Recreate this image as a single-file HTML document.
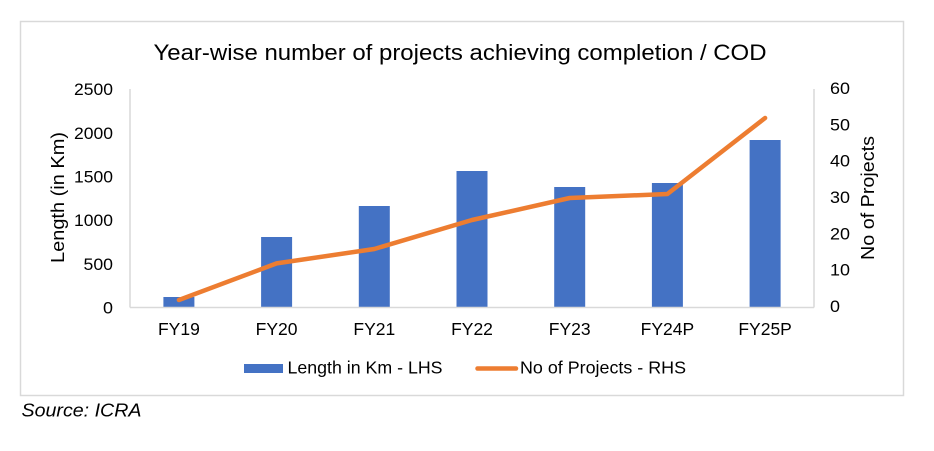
<!DOCTYPE html>
<html>
<head>
<meta charset="utf-8">
<style>
html,body{margin:0;padding:0;background:#fff;}
svg{display:block;}
text{font-family:"Liberation Sans",Arial,sans-serif;fill:#000;}
</style>
</head>
<body>
<svg width="934" height="451" viewBox="0 0 934 451" xmlns="http://www.w3.org/2000/svg">
<rect x="0" y="0" width="934" height="451" fill="#fff"/>
<rect x="20.5" y="21.5" width="883" height="374" fill="none" stroke="#d9d9d9" stroke-width="1.5"/>

<!-- Title -->
<text x="153.5" y="60" font-size="22.5" textLength="613" lengthAdjust="spacingAndGlyphs">Year-wise number of projects achieving completion / COD</text>

<!-- Bars -->
<g fill="#4472C4">
<rect x="163.4" y="297" width="31" height="10"/>
<rect x="261.1" y="237" width="31" height="70"/>
<rect x="358.8" y="206" width="31" height="101"/>
<rect x="456.5" y="171" width="31" height="136"/>
<rect x="554.2" y="187" width="31" height="120"/>
<rect x="651.9" y="183" width="31" height="124"/>
<rect x="749.6" y="140" width="31" height="167"/>
</g>

<!-- Axes -->
<g stroke="#d9d9d9" stroke-width="1.5" fill="none">
<line x1="130" y1="89" x2="130" y2="307.5"/>
<line x1="814" y1="89" x2="814" y2="307.5"/>
<line x1="130" y1="307.5" x2="814" y2="307.5"/>
</g>

<!-- Line -->
<polyline fill="none" stroke="#ED7D31" stroke-width="4.5" stroke-linejoin="round" stroke-linecap="round"
 points="178.9,300 276.6,263.4 374.3,249 472,220 569.7,198 667.4,194 765.1,118"/>

<!-- Left ticks -->
<g font-size="16.5" text-anchor="end">
<text x="113" y="95" textLength="39" lengthAdjust="spacingAndGlyphs">2500</text>
<text x="113" y="139" textLength="39" lengthAdjust="spacingAndGlyphs">2000</text>
<text x="113" y="182.5" textLength="39" lengthAdjust="spacingAndGlyphs">1500</text>
<text x="113" y="226" textLength="39" lengthAdjust="spacingAndGlyphs">1000</text>
<text x="113" y="270" textLength="29.5" lengthAdjust="spacingAndGlyphs">500</text>
<text x="113" y="313.5" textLength="10" lengthAdjust="spacingAndGlyphs">0</text>
</g>

<!-- Right ticks -->
<g font-size="16.5" text-anchor="start">
<text x="830" y="94" textLength="20" lengthAdjust="spacingAndGlyphs">60</text>
<text x="830" y="130.3" textLength="20" lengthAdjust="spacingAndGlyphs">50</text>
<text x="830" y="166.7" textLength="20" lengthAdjust="spacingAndGlyphs">40</text>
<text x="830" y="203" textLength="20" lengthAdjust="spacingAndGlyphs">30</text>
<text x="830" y="239.3" textLength="20" lengthAdjust="spacingAndGlyphs">20</text>
<text x="830" y="275.7" textLength="20" lengthAdjust="spacingAndGlyphs">10</text>
<text x="830" y="312" textLength="10" lengthAdjust="spacingAndGlyphs">0</text>
</g>

<!-- Category labels -->
<g font-size="17.5" text-anchor="middle">
<text x="178.9" y="335">FY19</text>
<text x="276.6" y="335">FY20</text>
<text x="374.3" y="335">FY21</text>
<text x="472" y="335">FY22</text>
<text x="569.7" y="335">FY23</text>
<text x="667.4" y="335">FY24P</text>
<text x="765.1" y="335">FY25P</text>
</g>

<!-- Axis titles -->
<text transform="translate(64,197.5) rotate(-90)" font-size="18" text-anchor="middle" textLength="131" lengthAdjust="spacingAndGlyphs">Length (in Km)</text>
<text transform="translate(874,198) rotate(-90)" font-size="18" text-anchor="middle" textLength="124" lengthAdjust="spacingAndGlyphs">No of Projects</text>

<!-- Legend -->
<rect x="244" y="364" width="39" height="9" fill="#4472C4"/>
<text x="287.5" y="373.5" font-size="17.5" textLength="155" lengthAdjust="spacingAndGlyphs">Length in Km - LHS</text>
<line x1="477.5" y1="368.5" x2="516" y2="368.5" stroke="#ED7D31" stroke-width="4.5" stroke-linecap="round"/>
<text x="520" y="373.5" font-size="17.5" textLength="166" lengthAdjust="spacingAndGlyphs">No of Projects - RHS</text>

<!-- Source -->
<text x="21.5" y="416.5" font-size="18.5" font-style="italic" textLength="120" lengthAdjust="spacingAndGlyphs">Source: ICRA</text>
</svg>
</body>
</html>
